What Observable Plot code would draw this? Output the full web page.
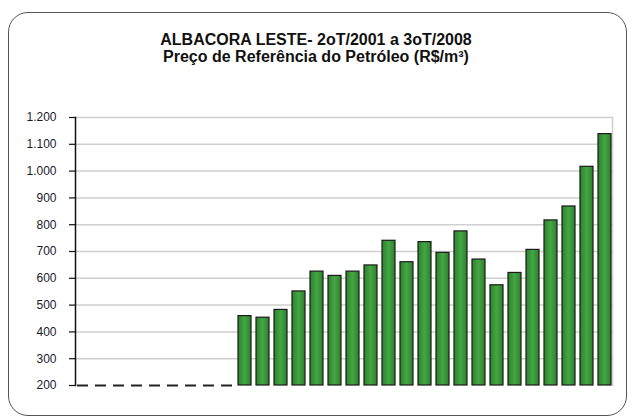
<!DOCTYPE html>
<html>
<head>
<meta charset="utf-8">
<script src="https://cdn.jsdelivr.net/npm/d3@7"></script>
<script src="https://cdn.jsdelivr.net/npm/@observablehq/plot@0.6"></script>
<style>
  html, body { margin: 0; padding: 0; background: #fff; }
  #wrap { position: relative; width: 632px; height: 419px; overflow: hidden; font-family: "Liberation Sans", Arial, sans-serif; }
  #border { position: absolute; left: 8px; top: 12px; width: 619px; height: 404px; border: 1.5px solid #555; border-radius: 20px; box-sizing: border-box; }
  #title { position: absolute; left: 0; top: 31px; width: 632px; text-align: center; font-weight: bold; font-size: 16px; line-height: 17px; color: #111; }
  #chart { position: absolute; left: 0; top: 0; }
</style>
</head>
<body>
<div id="wrap">
  <div id="border"></div>
  <div id="title">ALBACORA LESTE- 2oT/2001 a 3oT/2008<br>Preço de Referência do Petróleo (R$/m³)</div>
  <div id="chart"></div>
</div>
<script>
const quarters = [
  "2T01","3T01","4T01",
  "1T02","2T02","3T02","4T02",
  "1T03","2T03","3T03","4T03",
  "1T04","2T04","3T04","4T04",
  "1T05","2T05","3T05","4T05",
  "1T06","2T06","3T06","4T06",
  "1T07","2T07","3T07","4T07",
  "1T08","2T08","3T08"
];
const prices = [
  0, 0, 0, 0, 0, 0, 0, 0, 0,
  459, 453, 482, 551, 625, 609, 625, 648, 740, 660, 735,
  695, 775, 670, 574, 620, 706, 816, 868, 1016, 1138
];
const yTicks = [200, 300, 400, 500, 600, 700, 800, 900, 1000, 1100, 1200];

const data = quarters.map((q, i) => ({quarter: q, value: prices[i]}));
const fmt = d3.formatLocale({thousands: ".", decimal: ",", grouping: [3], currency: ["R$", ""]}).format(",");

const chart = Plot.plot({
  width: 632,
  height: 419,
  marginLeft: 75,
  marginRight: 20,
  marginTop: 117,
  marginBottom: 34,
  style: {fontFamily: "Liberation Sans, Arial, sans-serif", fontSize: "12px", color: "#1a1a2a", background: "transparent"},
  x: {domain: quarters, paddingInner: 0.27, paddingOuter: 0.05, axis: null},
  y: {domain: [200, 1200], ticks: yTicks, label: null},
  marks: [
    Plot.ruleY(yTicks.slice(1), {stroke: "#cfcfcf", strokeWidth: 1.5}),
    Plot.frame({anchor: "right", stroke: "#cfcfcf", strokeWidth: 1.5}),
    Plot.axisY({ticks: yTicks, tickFormat: fmt, tickSize: 6, tickPadding: 13, label: null, stroke: "#111", strokeWidth: 1.2, fill: "#1a1a2a"}),
    Plot.frame({anchor: "left", stroke: "#111", strokeWidth: 1.5}),
    Plot.tickY(data.filter(d => d.value < 200), {x: "quarter", y: () => 200, stroke: "#222", strokeWidth: 2, inset: 1}),
    Plot.barY(data.filter(d => d.value >= 200), {x: "quarter", y1: () => 200, y2: "value", fill: "url(#barGrad)", stroke: "#1a1a1a", strokeWidth: 1.2})
  ]
});
const svg = d3.select(chart);
const grad = svg.insert("defs", ":first-child").append("linearGradient")
  .attr("id", "barGrad").attr("x1", "0").attr("x2", "1").attr("y1", "0").attr("y2", "0");
grad.append("stop").attr("offset", "0").attr("stop-color", "#2b822b");
grad.append("stop").attr("offset", "0.5").attr("stop-color", "#45a545");
grad.append("stop").attr("offset", "1").attr("stop-color", "#2b822b");
document.getElementById("chart").appendChild(chart);
</script>
</body>
</html>
